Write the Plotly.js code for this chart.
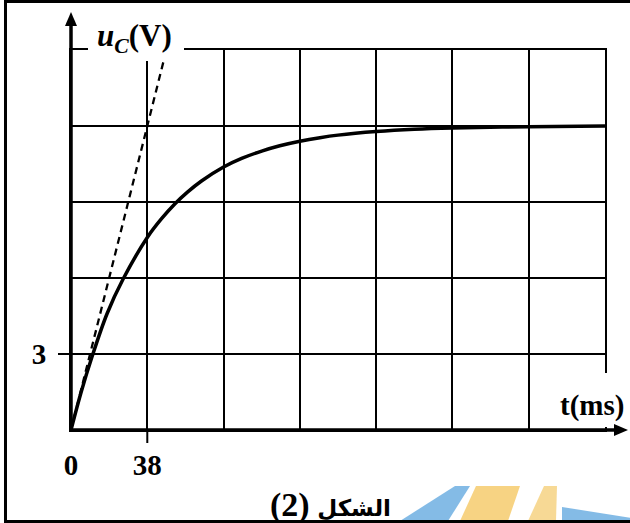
<!DOCTYPE html>
<html>
<head>
<meta charset="utf-8">
<script src="https://cdn.plot.ly/plotly-3.0.1.min.js"></script>
<style>html,body{margin:0;padding:0;background:#fff;}#chart{width:630px;height:523px;}</style>
</head>
<body>
<div id="chart"></div>
<script>
// ---- data ----
const tMs = [0, 5, 10.5, 18, 25.9, 38, 45, 51.8, 58, 65, 76, 85, 95, 104, 114, 124, 133, 152, 171, 190, 228, 266];
const uC  = [0, 1.48, 2.9, 4.6, 5.95, 7.6, 8.33, 8.93, 9.39, 9.83, 10.38, 10.72, 11.01, 11.22, 11.4, 11.54, 11.64, 11.78, 11.87, 11.92, 11.97, 12.0];
const tangentT = [0, 47.5];
const tangentU = [0, 15];
const xTickVals = [0, 38, 76, 114, 152, 190, 228, 266];
const xTickText = ['0', '38', '', '', '', '', '', ''];
const yTickVals = [0, 3, 6, 9, 12, 15];
const yTickText = ['', '3', '', '', '', ''];
const yLabel = '<b><i>u</i><sub><i>C</i></sub>(V)</b>';
const xLabel = '<b>t(ms)</b>';
const figTitle = '<b><span style="font-size:34px">(2)</span> <span style="font-size:23px;font-family:DejaVu Sans">الشكل</span></b>';

// ---- layout geometry (pixels) ----
const W = 630, H = 523;
const L = 71, R = 605, T = 50, B = 430;
const px = x => (x - L) / (R - L);
const py = y => (B - y) / (B - T);
function poly(pts) {
  return 'M' + pts.map(p => px(p[0]).toFixed(5) + ',' + py(p[1]).toFixed(5)).join('L') + 'Z';
}
function pline(pts) {
  return 'M' + pts.map(p => px(p[0]).toFixed(5) + ',' + py(p[1]).toFixed(5)).join('L');
}
const serif = 'Liberation Serif, Times New Roman, serif';

const traces = [
  {x: tangentT, y: tangentU, mode: 'lines', line: {color: '#000', width: 2.3, dash: '7px,5px'}, hoverinfo: 'skip'},
  {x: tMs, y: uC, mode: 'lines', line: {color: '#000', width: 3.5, shape: 'spline', smoothing: 1}, hoverinfo: 'skip'}
];

const shapes = [
  // watermark
  {type: 'path', xref: 'paper', yref: 'paper', layer: 'below', line: {width: 0}, fillcolor: 'rgba(110,175,226,0.85)', path: poly([[400,521],[448,521],[470,486],[455,486]])},
  {type: 'path', xref: 'paper', yref: 'paper', layer: 'below', line: {width: 0}, fillcolor: 'rgba(246,206,118,0.9)', path: poly([[460,521],[508,521],[520,486],[476,486]])},
  {type: 'path', xref: 'paper', yref: 'paper', layer: 'below', line: {width: 0}, fillcolor: 'rgba(246,210,130,0.85)', path: poly([[528,521],[556,521],[557,486],[544,486]])},
  {type: 'path', xref: 'paper', yref: 'paper', layer: 'below', line: {width: 0}, fillcolor: 'rgba(110,175,226,0.85)', path: poly([[562,507],[632,518],[632,521],[562,521]])},
  // white label backgrounds
  {type: 'rect', xref: 'paper', yref: 'paper', layer: 'above', line: {width: 0}, fillcolor: '#fff', x0: px(88), x1: px(184), y0: py(61), y1: py(20)},
  {type: 'rect', xref: 'paper', yref: 'paper', layer: 'above', line: {width: 0}, fillcolor: '#fff', x0: px(556), x1: px(632), y0: py(427), y1: py(373)},
  // tick marks
  {type: 'line', xref: 'x', yref: 'paper', layer: 'above', x0: 38, x1: 38, y0: py(430), y1: py(443), line: {color: '#000', width: 2}},
  {type: 'line', xref: 'paper', yref: 'y', layer: 'above', x0: px(58), x1: px(71), y0: 3, y1: 3, line: {color: '#000', width: 2}},
  // axes
  {type: 'line', xref: 'paper', yref: 'paper', layer: 'above', x0: px(71), x1: px(71), y0: py(431.5), y1: py(22), line: {color: '#000', width: 3.5}},
  {type: 'line', xref: 'paper', yref: 'paper', layer: 'above', x0: px(69.5), x1: px(618), y0: py(430), y1: py(430), line: {color: '#000', width: 3.5}},
  {type: 'path', xref: 'paper', yref: 'paper', layer: 'above', line: {width: 0}, fillcolor: '#000', path: poly([[71,12],[65,26],[77,26]])},
  {type: 'path', xref: 'paper', yref: 'paper', layer: 'above', line: {width: 0}, fillcolor: '#000', path: poly([[628,430],[614,424],[614,436]])},
  // frame
  {type: 'path', xref: 'paper', yref: 'paper', layer: 'above', line: {color: '#000', width: 3}, path: pline([[634,1.5],[5.5,1.5],[5.5,521.5],[634,521.5]])}
];

const annotations = [
  {xref: 'paper', yref: 'paper', x: px(134), y: py(38), text: yLabel, showarrow: false, xanchor: 'center', yanchor: 'middle', font: {family: serif, size: 31, color: '#000'}},
  {xref: 'paper', yref: 'paper', x: px(592), y: py(405), text: xLabel, showarrow: false, xanchor: 'center', yanchor: 'middle', font: {family: serif, size: 29, color: '#000'}},
  {xref: 'paper', yref: 'paper', x: px(330), y: py(505), text: figTitle, showarrow: false, xanchor: 'center', yanchor: 'middle', font: {family: serif + ', DejaVu Sans', size: 30, color: '#000'}}
];

const axisCommon = {ticks: '', showgrid: true, gridcolor: '#000', gridwidth: 2, zeroline: false,
  showline: true, mirror: true, linecolor: '#000', linewidth: 2, fixedrange: true};

const layout = {
  width: W, height: H,
  margin: {l: L, r: W - R, t: T, b: H - B, pad: 0},
  paper_bgcolor: '#fff', plot_bgcolor: '#fff',
  showlegend: false,
  xaxis: Object.assign({}, axisCommon, {range: [0, 266], tickvals: xTickVals, ticktext: xTickText, ticklabelstandoff: 8,
          tickfont: {family: serif, size: 29, color: '#000', weight: 'bold'}}),
  yaxis: Object.assign({}, axisCommon, {range: [0, 15], tickvals: yTickVals, ticktext: yTickText, ticklabelstandoff: 17,
          tickfont: {family: serif, size: 29, color: '#000', weight: 'bold'}}),
  shapes: shapes,
  annotations: annotations
};

Plotly.newPlot('chart', traces, layout, {displayModeBar: false, staticPlot: true});
</script>
</body>
</html>
